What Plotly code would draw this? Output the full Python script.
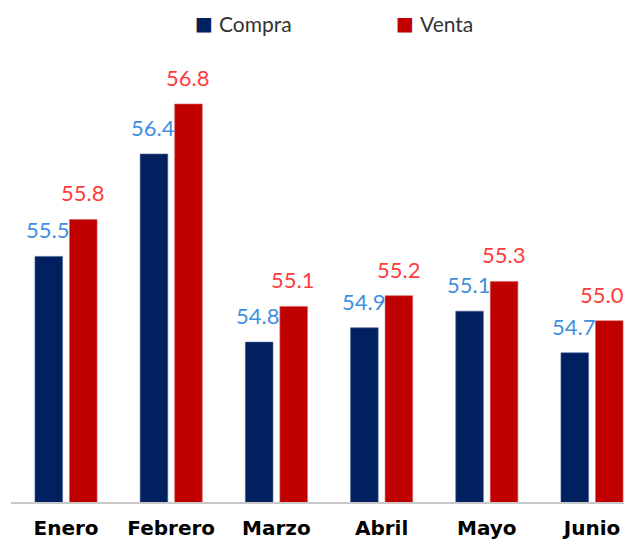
import plotly.graph_objects as go

meses = ["Enero", "Febrero", "Marzo", "Abril", "Mayo", "Junio"]
compra = [55.52, 56.38, 54.80, 54.92, 55.06, 54.71]
venta = [55.83, 56.80, 55.10, 55.19, 55.31, 54.98]
series_names = ["Compra", "Venta"]

COL_COMPRA = "#002060"
COL_VENTA = "#C00000"
LBL_COMPRA = "#3F8FE0"
LBL_VENTA = "#FF3B3B"

W, H = 616, 536
ML, MR, MT, MB = 3, 0, 31, 42
XR = [-0.523, 5.304]
pw = W - ML - MR
ph = H - MT - MB

fig = go.Figure()
fig.add_trace(go.Bar(name=series_names[0], x=meses, y=compra, marker_color=COL_COMPRA,
                     marker_line=dict(color="#4a6294", width=0.6), showlegend=False))
fig.add_trace(go.Bar(name=series_names[1], x=meses, y=venta, marker_color=COL_VENTA,
                     marker_line=dict(color="#d96060", width=0.6), showlegend=False))

LABEL_HALF = 22  # approx half width of a value label, px
ann = []
for i, (m, c, v) in enumerate(zip(meses, compra, venta)):
    cx = ML + (i - XR[0]) / (XR[1] - XR[0]) * pw
    sv = 16.5
    # keep the label inside the figure, as the original chart does
    if cx + sv + LABEL_HALF > W:
        sv = W - LABEL_HALF - cx
    ann.append(dict(x=m, y=c, text=f"{c:.1f}", xshift=-18.5, yshift=12, yanchor="bottom",
                    showarrow=False, borderpad=0,
                    font=dict(family="Lato", size=22, color=LBL_COMPRA)))
    ann.append(dict(x=m, y=v, text=f"{v:.1f}", xshift=sv, yshift=12, yanchor="bottom",
                    showarrow=False, borderpad=0,
                    font=dict(family="Lato", size=22, color=LBL_VENTA)))

# legend drawn as annotations (square + label)
def px2paper_x(fx):
    return (fx - ML) / pw
def px2paper_y(fy):
    return (H - MB - fy) / ph

leg_y = px2paper_y(15)
for name, col, sq_right in zip(series_names, [COL_COMPRA, COL_VENTA], [207, 408]):
    ann.append(dict(xref="paper", yref="paper", x=px2paper_x(sq_right), y=leg_y,
                    xanchor="right", yanchor="middle", text="■", showarrow=False,
                    font=dict(family="DejaVu Sans", size=19, color=col)))
    ann.append(dict(xref="paper", yref="paper", x=px2paper_x(sq_right + 2), y=leg_y,
                    xanchor="left", yanchor="middle", text=name, showarrow=False,
                    font=dict(family="Lato", size=21, color="#333333")))

fig.update_layout(
    width=W, height=H,
    margin=dict(l=ML, r=MR, t=MT, b=MB),
    paper_bgcolor="white", plot_bgcolor="white",
    barmode="group", bargap=0.344, bargroupgap=0.2,
    annotations=ann,
    showlegend=False,
    xaxis=dict(range=XR, showline=True, linecolor="#C8C8C8", linewidth=2,
               ticks="outside", ticklen=7, tickcolor="rgba(0,0,0,0)", automargin=False,
               tickfont=dict(family="DejaVu Sans", size=20, color="#000000", weight="bold"),
               showgrid=False, zeroline=False),
    yaxis=dict(range=[53.457, 57.346], visible=False, showgrid=False, zeroline=False,
               automargin=False),
)
fig.write_html("out.html")
